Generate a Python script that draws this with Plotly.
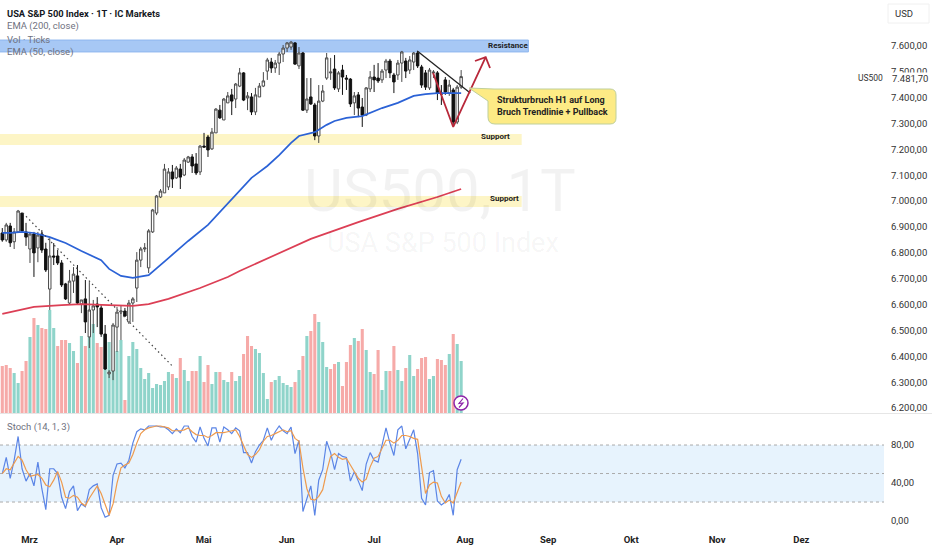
import plotly.graph_objects as go

W, H = 932, 550

# daily candles
opens = [6877, 6850, 6904, 6843, 6881, 6954, 6881, 6815, 6873, 6819, 6873, 6815, 6660, 6788, 6788, 6761, 6680, 6606, 6691, 6711,
         6602, 6622, 6475, 6579, 6602, 6587, 6486, 6332, 6343, 6513, 6571, 6575, 6533, 6606, 6664, 6772, 6815, 6742, 6881, 6954,
         7016, 7032, 7055, 7113, 7090, 7124, 7101, 7151, 7171, 7144, 7113, 7213, 7248, 7202, 7264, 7352, 7314, 7380, 7411, 7395,
         7445, 7496, 7399, 7403, 7345, 7403, 7445, 7503, 7538, 7515, 7534, 7569, 7592, 7596, 7612, 7523, 7573, 7352, 7403, 7372,
         7252, 7387, 7476, 7496, 7511, 7434, 7507, 7476, 7472, 7380, 7411, 7364, 7333, 7434, 7480, 7476, 7469, 7507, 7542, 7488,
         7488, 7534, 7542, 7507, 7538, 7573, 7519, 7496, 7438, 7496, 7496, 7418, 7469, 7418, 7430, 7306, 7441]
highs = [6896, 6916, 6916, 6896, 6966, 6954, 6916, 6881, 6881, 6881, 6888, 6839, 6857, 6838, 6811, 6772, 6684, 6734, 6745, 6753,
         6618, 6695, 6687, 6618, 6629, 6598, 6521, 6347, 6529, 6591, 6598, 6587, 6618, 6629, 6803, 6823, 6838, 6892, 6970, 7024,
         7047, 7144, 7128, 7140, 7136, 7144, 7167, 7175, 7182, 7186, 7217, 7264, 7256, 7283, 7360, 7372, 7399, 7422, 7434, 7457,
         7515, 7499, 7422, 7418, 7438, 7457, 7499, 7554, 7554, 7546, 7577, 7604, 7615, 7619, 7615, 7596, 7577, 7476, 7476, 7380,
         7449, 7449, 7573, 7554, 7565, 7503, 7527, 7488, 7476, 7422, 7422, 7399, 7441, 7503, 7527, 7534, 7511, 7550, 7550, 7496,
         7546, 7581, 7554, 7561, 7577, 7581, 7527, 7507, 7515, 7507, 7503, 7449, 7480, 7469, 7438, 7449, 7507]
lows = [6843, 6843, 6823, 6815, 6877, 6881, 6827, 6761, 6707, 6764, 6800, 6726, 6579, 6753, 6753, 6668, 6618, 6602, 6645, 6602,
        6567, 6490, 6432, 6490, 6513, 6475, 6347, 6316, 6308, 6417, 6463, 6552, 6525, 6533, 6610, 6745, 6803, 6722, 6877, 6946,
        7012, 7032, 7043, 7051, 7086, 7047, 7097, 7148, 7109, 7101, 7101, 7209, 7171, 7198, 7264, 7318, 7314, 7380, 7333, 7360,
        7441, 7387, 7352, 7333, 7333, 7403, 7441, 7469, 7496, 7496, 7488, 7538, 7577, 7585, 7527, 7511, 7349, 7341, 7372, 7236,
        7225, 7383, 7469, 7469, 7430, 7422, 7411, 7430, 7364, 7333, 7325, 7287, 7329, 7422, 7422, 7457, 7457, 7476, 7476, 7418,
        7469, 7461, 7476, 7492, 7507, 7515, 7438, 7430, 7430, 7476, 7391, 7372, 7411, 7407, 7295, 7298, 7434]
closes = [6850, 6908, 6839, 6881, 6962, 6885, 6861, 6873, 6800, 6869, 6811, 6734, 6788, 6784, 6761, 6676, 6622, 6691, 6718, 6606,
          6618, 6533, 6579, 6595, 6591, 6486, 6351, 6339, 6521, 6571, 6575, 6556, 6606, 6622, 6772, 6815, 6819, 6885, 6966, 7020,
          7039, 7124, 7113, 7086, 7128, 7093, 7159, 7171, 7136, 7109, 7213, 7209, 7198, 7267, 7356, 7322, 7395, 7407, 7387, 7453,
          7496, 7391, 7407, 7345, 7411, 7445, 7465, 7546, 7515, 7534, 7569, 7592, 7612, 7615, 7530, 7573, 7352, 7395, 7376, 7252,
          7387, 7426, 7554, 7499, 7438, 7496, 7480, 7472, 7376, 7407, 7360, 7333, 7438, 7480, 7469, 7465, 7503, 7542, 7496, 7461,
          7534, 7577, 7503, 7546, 7573, 7523, 7449, 7441, 7507, 7499, 7418, 7414, 7422, 7449, 7306, 7441, 7481.7]

# volume (thousand ticks) and its colour, 1 = teal, 0 = pink
volume = [47, 48, 45, 40, 30, 42, 52, 76, 95, 88, 85, 84, 103, 85, 67, 73, 73, 70, 62, 50,
          77, 67, 77, 89, 70, 66, 78, 71, 42, 62, 73, 13, 57, 71, 64, 45, 34, 40, 25, 29,
          28, 32, 41, 39, 35, 55, 43, 32, 42, 42, 57, 31, 48, 29, 41, 41, 33, 31, 41, 32,
          37, 59, 77, 67, 64, 60, 40, 14, 31, 33, 37, 30, 28, 26, 31, 43, 57, 77, 82, 99,
          91, 71, 46, 44, 49, 51, 27, 51, 68, 75, 72, 84, 63, 41, 39, 63, 23, 42, 42, 67,
          43, 32, 45, 58, 37, 44, 55, 56, 34, 37, 54, 53, 48, 59, 79, 69, 52]
vol_up = [0, 0, 0, 1, 1, 0, 0, 1, 0, 1, 0, 0, 1, 1, 0, 0, 0, 1, 1, 0,
          1, 0, 1, 1, 0, 0, 1, 1, 1, 1, 1, 0, 1, 1, 1, 1, 1, 1, 1, 1,
          1, 1, 1, 0, 1, 0, 1, 1, 0, 0, 1, 0, 0, 1, 1, 0, 1, 1, 0, 1,
          1, 0, 0, 0, 1, 1, 1, 1, 0, 1, 1, 1, 1, 1, 0, 1, 0, 1, 0, 0,
          1, 1, 1, 0, 0, 1, 0, 0, 0, 1, 0, 0, 1, 1, 0, 0, 1, 1, 0, 0,
          1, 1, 0, 1, 1, 0, 0, 0, 1, 1, 0, 0, 0, 1, 0, 1, 1]

# EMAs read at the bars where the curve could be read
ema50_bar = [0, 2, 5, 8, 12, 16, 20, 25, 27, 30, 33, 37, 42, 47, 52, 56, 60, 63, 67, 70, 73, 75, 79, 82, 84, 87, 91, 96, 100, 104, 107, 110, 113, 116]
ema50 = [6877, 6877, 6881, 6877, 6861, 6838, 6807, 6772, 6738, 6711, 6703, 6714, 6780, 6846, 6908, 6974, 7043, 7090, 7136, 7178, 7225, 7252, 7267, 7295, 7310, 7322, 7329, 7360, 7380, 7407, 7414, 7418, 7418, 7418]
ema200_bar = [0, 4, 8, 15, 20, 27, 33, 37, 42, 50, 57, 60, 70, 78, 90, 100, 110, 116]
ema200 = [6564, 6579, 6591, 6598, 6602, 6598, 6595, 6602, 6622, 6664, 6707, 6730, 6800, 6854, 6919, 6970, 7016, 7047]

stoch_k = [50, 67, 45, 64, 89, 55, 42, 50, 37, 62, 34, 12, 55, 55, 50, 25, 13, 31, 37, 11,
           18, 15, 33, 37, 39, 14, 4, 6, 48, 60, 61, 56, 64, 82, 94, 97, 96, 100, 100, 100,
           99, 99, 96, 92, 97, 93, 100, 100, 89, 83, 99, 87, 79, 98, 98, 83, 99, 96, 92, 98,
           95, 72, 72, 61, 73, 80, 85, 98, 85, 94, 100, 95, 92, 99, 71, 85, 10, 24, 37, 6,
           43, 54, 84, 72, 54, 71, 68, 67, 42, 52, 41, 32, 60, 72, 64, 62, 80, 98, 82, 69,
           96, 100, 76, 87, 96, 71, 24, 17, 51, 53, 21, 17, 20, 28, 6, 54, 65]
stoch_d = [50, 55, 54, 61, 68, 64, 54, 47, 48, 49, 45, 38, 36, 43, 52, 41, 25, 24, 27, 25,
           19, 16, 24, 31, 37, 29, 17, 6, 18, 40, 56, 59, 61, 70, 82, 92, 96, 98, 99, 100,
           100, 99, 98, 95, 95, 95, 96, 98, 94, 91, 90, 90, 88, 90, 93, 93, 93, 94, 95, 96,
           89, 80, 70, 67, 70, 75, 84, 89, 90, 92, 94, 96, 94, 95, 87, 84, 56, 34, 23, 22,
           26, 33, 52, 68, 71, 67, 65, 66, 59, 52, 45, 41, 44, 57, 66, 68, 76, 85, 85, 82,
           85, 90, 90, 89, 87, 86, 57, 29, 38, 41, 40, 26, 19, 22, 19, 31, 41]

# drawings on the price pane
resistance_zone = [7577, 7623]
support_zones = [[7217, 7260], [6977, 7020]]
zone_end_bar = [133, 131.3]
dotted_bar = [5.2, 43.2]
dotted_price = [6954, 6359]
trend_bar = [104.9, 118.3]
trend_price = [7581, 7418]
red_bar = [108.9, 114, 122.2]
red_price = [7496, 7287, 7557]
head_bar = [119.5, 122.2, 123.3]
head_price = [7542, 7557, 7515]

price_ticks = list(range(6200, 7700, 100))
price_labels = ["6.200,00", "6.300,00", "6.400,00", "6.500,00", "6.600,00", "6.700,00", "6.800,00", "6.900,00",
                "7.000,00", "7.100,00", "7.200,00", "7.300,00", "7.400,00", "7.500,00", "7.600,00"]
stoch_ticks = [0, 40, 80]
stoch_labels = ["0,00", "40,00", "80,00"]
month_ticks = [6.9, 29, 50.9, 71.9, 94, 117, 138, 159, 180.7, 202]
month_labels = ["Mrz", "Apr", "Mai", "Jun", "Jul", "Aug", "Sep", "Okt", "Nov", "Dez"]

bars = list(range(len(closes)))
FONT = "Roboto"


def px(x):
    return x / W


def py(y):
    return 1 - y / H


fig = go.Figure()

fig.add_trace(go.Bar(x=bars, y=volume, yaxis="y", xaxis="x",
                     marker=dict(color=["#8fd4ca" if u else "#f6aaa8" for u in vol_up], line_width=0)))
fig.add_trace(go.Scatter(x=ema200_bar, y=ema200, yaxis="y2", mode="lines", line=dict(color="#dc3f55", width=1.7)))
fig.add_trace(go.Scatter(x=ema50_bar, y=ema50, yaxis="y2", mode="lines", line=dict(color="#2b62d6", width=1.7)))
fig.add_trace(go.Candlestick(x=bars, open=opens, high=highs, low=lows, close=closes, yaxis="y2",
                             increasing=dict(line=dict(color="#4a4a4a", width=1), fillcolor="#ffffff"),
                             decreasing=dict(line=dict(color="#111111", width=1), fillcolor="#111111"),
                             whiskerwidth=0))
fig.add_trace(go.Scatter(x=dotted_bar, y=dotted_price, yaxis="y2", mode="lines",
                         line=dict(color="#444444", width=1.2, dash="1.5px,3px")))
fig.add_trace(go.Scatter(x=trend_bar, y=trend_price, yaxis="y2", mode="lines", line=dict(color="#222222", width=1.3)))
fig.add_trace(go.Scatter(x=red_bar, y=red_price, yaxis="y2", mode="lines", line=dict(color="#b8283a", width=1.8)))
fig.add_trace(go.Scatter(x=head_bar, y=head_price, yaxis="y2", mode="lines", line=dict(color="#b8283a", width=1.8)))

fig.add_trace(go.Scatter(x=bars, y=stoch_k, xaxis="x2", yaxis="y3", mode="lines", line=dict(color="#5b85e6", width=1.2)))
fig.add_trace(go.Scatter(x=bars, y=stoch_d, xaxis="x2", yaxis="y3", mode="lines", line=dict(color="#ee9a4d", width=1.2)))

shapes = []
shapes.append(dict(type="rect", xref="x", yref="y2", x0=-1, x1=zone_end_bar[0], y0=resistance_zone[0], y1=resistance_zone[1],
                   fillcolor="rgba(120,170,240,0.65)", line=dict(color="#8fb6ee", width=1), layer="below"))
for z in support_zones:
    shapes.append(dict(type="rect", xref="x", yref="y2", x0=-1, x1=zone_end_bar[1], y0=z[0], y1=z[1],
                       fillcolor="#fdf5c6", line_width=0, layer="below"))

# stochastic band
shapes.append(dict(type="rect", xref="x2 domain", yref="y3", x0=0, x1=1, y0=20, y1=80,
                   fillcolor="#e7f3fd", line_width=0, layer="below"))
for level in [20, 50, 80]:
    shapes.append(dict(type="line", xref="x2 domain", yref="y3", x0=0, x1=1, y0=level, y1=level,
                       line=dict(color="#ababab", width=1, dash="3px,3px"), layer="below"))

# pane separator
shapes.append(dict(type="line", xref="paper", yref="paper", x0=0, x1=1, y0=py(413.5), y1=py(413.5),
                   line=dict(color="#e6e6e6", width=1)))

# callout with its tail
callout = (f"M {px(469)} {py(88)} L {px(494)} {py(89)} L {px(610)} {py(89)} Q {px(616)} {py(89)} {px(616)} {py(95)} "
           f"L {px(616)} {py(118)} Q {px(616)} {py(124)} {px(610)} {py(124)} L {px(495)} {py(124)} "
           f"Q {px(488)} {py(124)} {px(488)} {py(117)} L {px(488)} {py(101)} Z")
shapes.append(dict(type="path", xref="paper", yref="paper", path=callout,
                   fillcolor="#fdeb85", line=dict(color="#bfcf9a", width=1)))

# lightning badge
shapes.append(dict(type="circle", xref="paper", yref="paper", x0=px(454), x1=px(468), y0=py(410), y1=py(396),
                   fillcolor="#ffffff", line=dict(color="#8e24aa", width=1.5)))
bolt = (f"M {px(463)} {py(398.5)} L {px(459)} {py(403.5)} L {px(463)} {py(403)} L {px(459)} {py(407.5)}")
shapes.append(dict(type="path", xref="paper", yref="paper", path=bolt, line=dict(color="#8e24aa", width=1.2)))

# USD box
shapes.append(dict(type="rect", xref="paper", yref="paper", x0=px(888), x1=px(929), y0=py(23), y1=py(4),
                   fillcolor="#ffffff", line=dict(color="#f0f0f0", width=1)))


def label(x, y, text, size=10, color="#131722", anchor="left", bold=False, bg=None):
    if bold:
        text = "<b>" + text + "</b>"
    return dict(xref="paper", yref="paper", x=px(x), y=py(y), text=text, showarrow=False, xanchor=anchor, yanchor="middle",
                align="left", font=dict(family=FONT, size=size, color=color), bgcolor=bg, borderpad=0)


annotations = [
    label(440, 190, "US500, 1T", 60, "rgba(0,0,0,0.05)", "center"),
    label(443, 243, "USA S&amp;P 500 Index", 27, "rgba(0,0,0,0.05)", "center"),
    label(6, 13, "USA S&amp;P 500 Index · 1T · IC Markets", 9.3, "#131722", bold=True),
    label(6, 26, "EMA (200, close)", 9.5, "#6f7280"),
    label(6, 39, "Vol · Ticks", 9.5, "#6f7280"),
    label(6, 52, "EMA (50, close)", 9.5, "#6f7280"),
    label(6, 427, "Stoch (14, 1, 3)", 9.5, "#6f7280"),
    label(508, 46, "Resistance", 8, "#222222", "center", bold=True),
    label(495, 137, "Support", 8, "#222222", "center", bold=True),
    label(504, 198, "Support", 8, "#222222", "center", bold=True),
    label(496, 106.5, "Strukturbruch H1 auf Long<br>Bruch Trendlinie + Pullback", 9, "#222222", bold=True),
    label(891, 78, "7.481,70", 9.5, "#333333", bg="#ffffff"),
    label(857, 78, "US500", 8.5, "#333333"),
    label(894, 13, "USD", 9.5, "#333333"),
]

fig.update_layout(
    width=W, height=H, margin=dict(l=0, r=0, t=0, b=0),
    paper_bgcolor="#ffffff", plot_bgcolor="#ffffff",
    showlegend=False, barmode="overlay", bargap=0.22, boxgap=0.12,
    font=dict(family=FONT, size=9.5, color="#333333"),
    shapes=shapes, annotations=annotations,
    xaxis=dict(domain=[0, 884 / W], range=[-0.58, 222.9], showgrid=False, zeroline=False, showticklabels=False,
               rangeslider=dict(visible=False), anchor="y"),
    yaxis=dict(domain=[137 / H, 1], range=[0, 413], showgrid=False, zeroline=False, showticklabels=False, anchor="x"),
    yaxis2=dict(domain=[137 / H, 1], range=[6180.8, 7777.9], overlaying="y", side="right", anchor="x",
                showgrid=False, zeroline=False, tickvals=price_ticks, ticktext=price_labels,
                ticks="outside", ticklen=4, tickcolor="rgba(0,0,0,0)"),
    xaxis2=dict(domain=[0, 884 / W], range=[-0.58, 222.9], showgrid=False, zeroline=False, anchor="y3",
                tickvals=month_ticks, ticktext=month_labels, ticks="outside", ticklen=4, tickcolor="rgba(0,0,0,0)",
                tickfont=dict(family=FONT, size=9.5, color="#222222", weight="bold")),
    yaxis3=dict(domain=[23 / H, 135 / H], range=[-6.3, 111.6], side="right", anchor="x2", showgrid=False, zeroline=False,
                tickvals=stoch_ticks, ticktext=stoch_labels, ticks="outside", ticklen=4, tickcolor="rgba(0,0,0,0)"),
)

fig.write_html("out.html", config={"displayModeBar": False}, post_script="document.body.style.margin='0';")
